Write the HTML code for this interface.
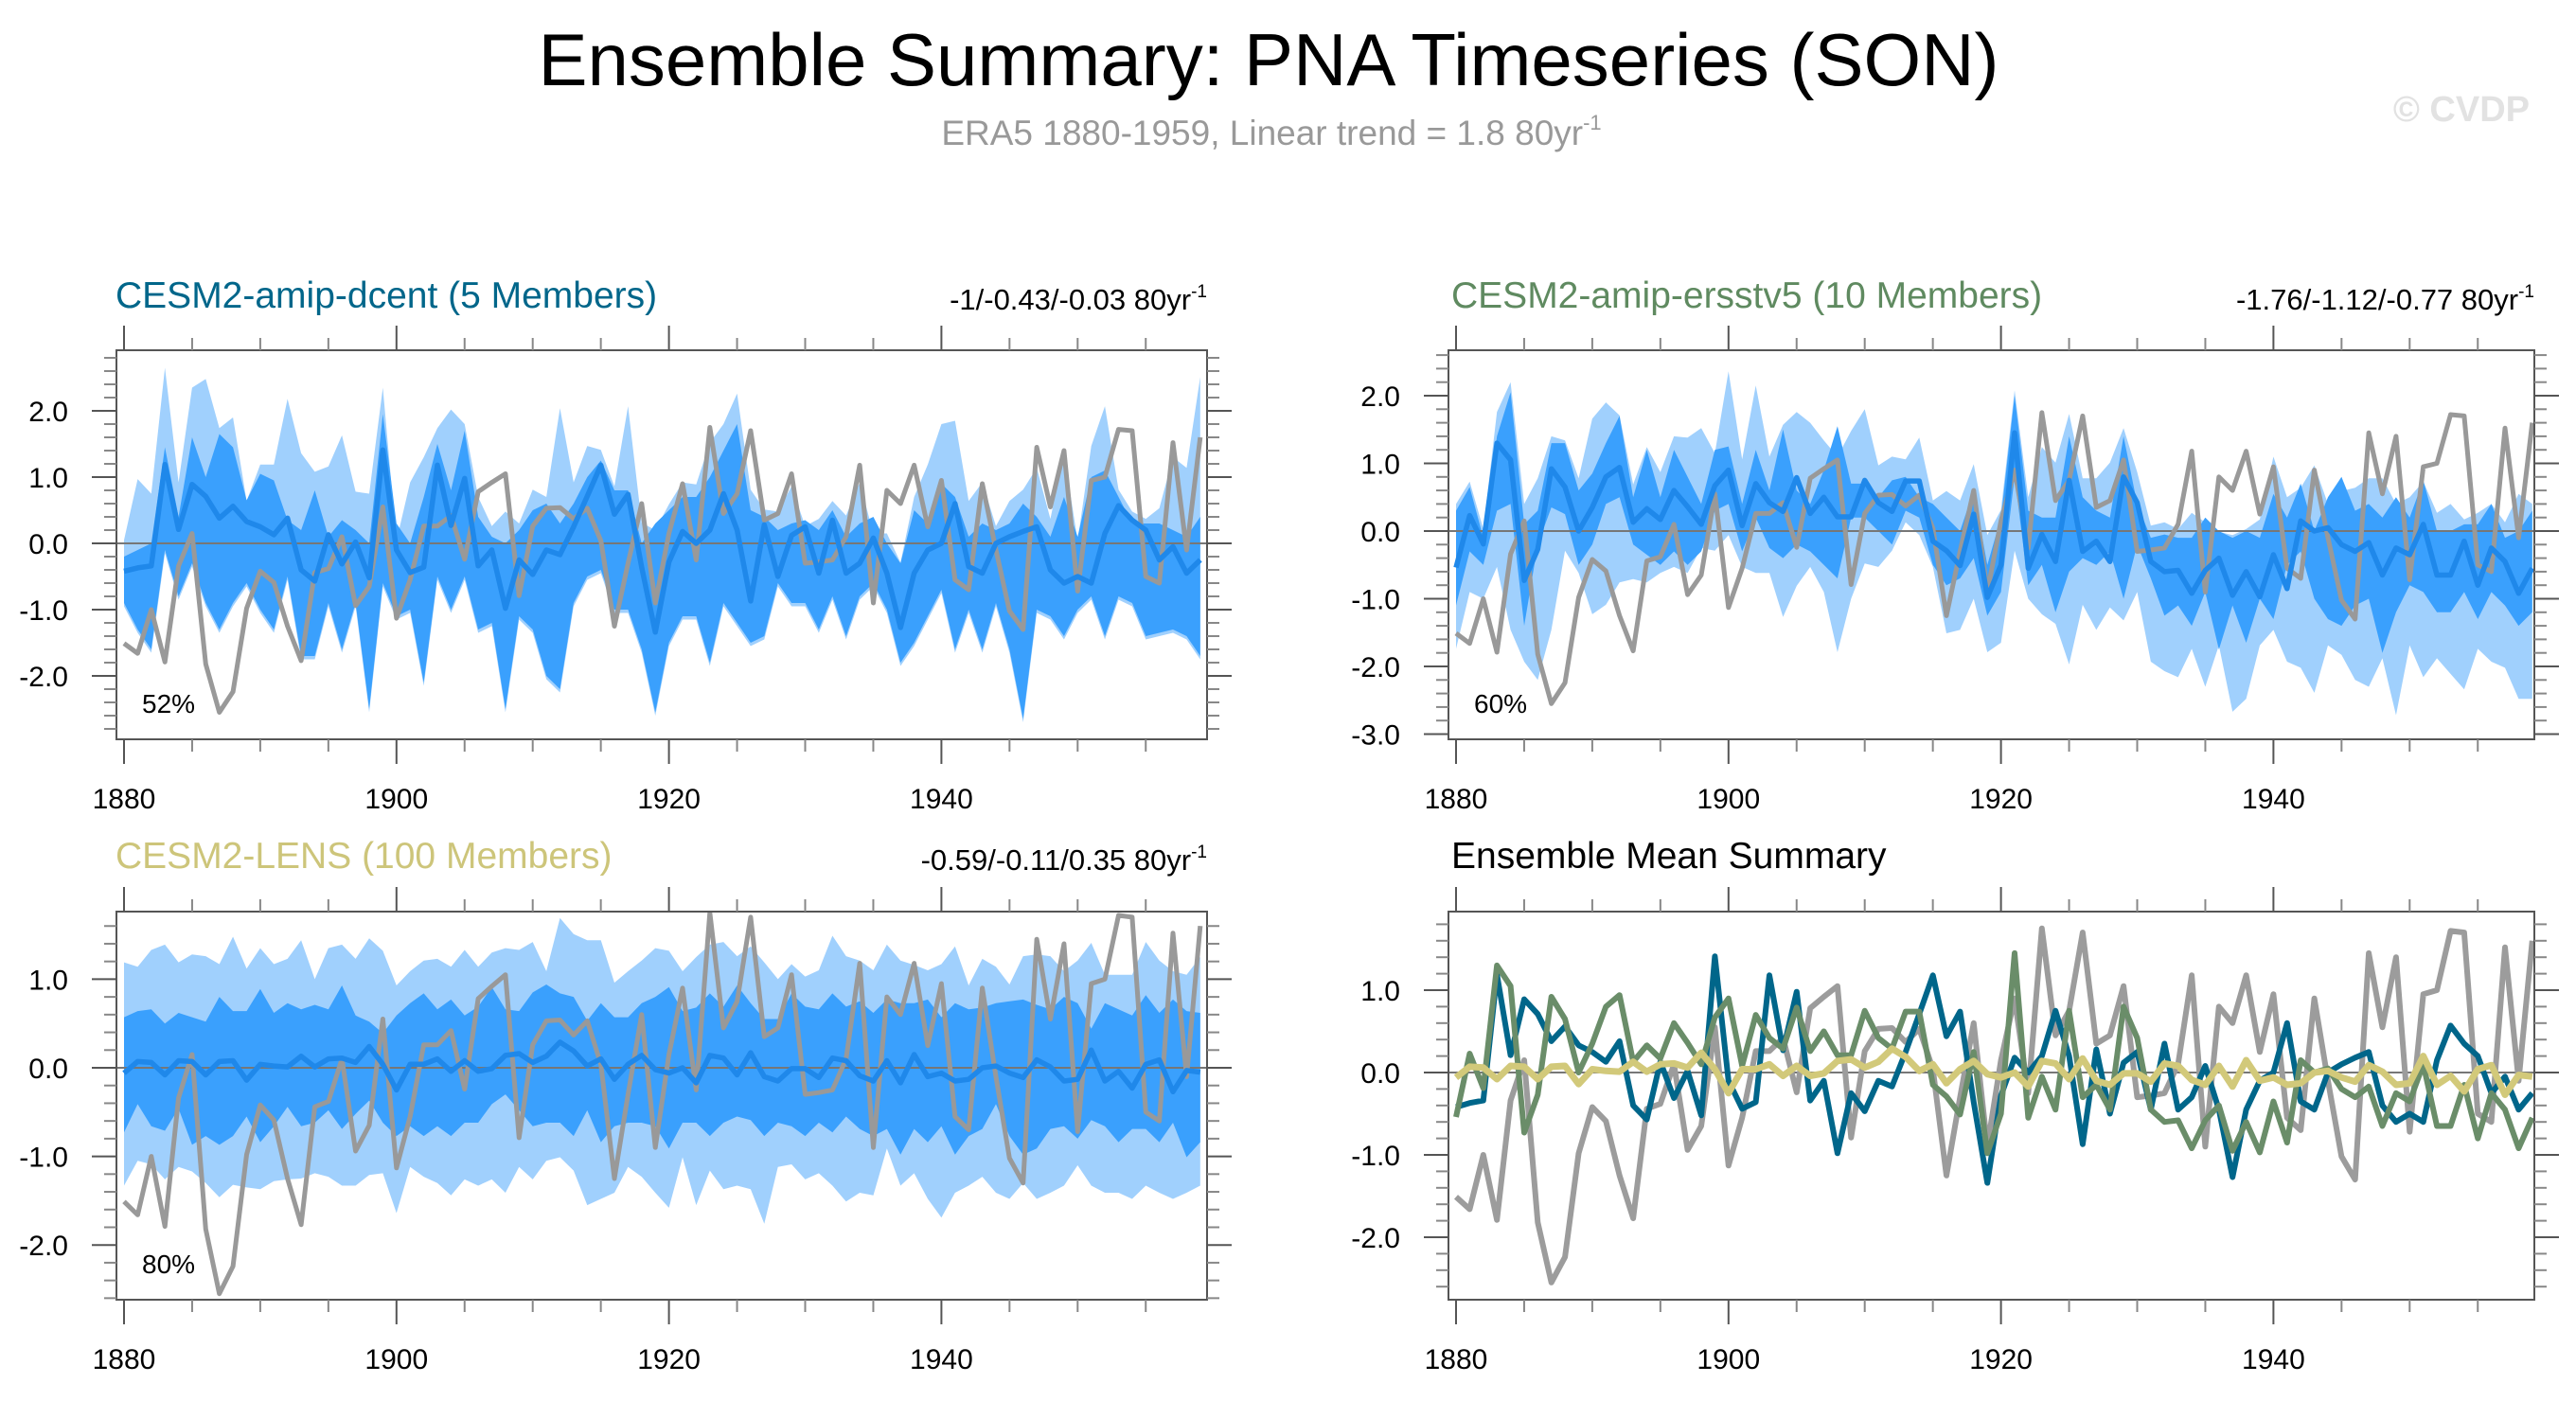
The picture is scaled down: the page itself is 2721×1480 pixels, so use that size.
<!DOCTYPE html>
<html><head><meta charset="utf-8"><title>Ensemble Summary: PNA Timeseries (SON)</title>
<style>html,body{margin:0;padding:0;background:#fff;}svg{display:block;font-family:"Liberation Sans",Arial,sans-serif;}</style>
</head><body>
<svg id="chart" width="2721" height="1480" viewBox="0 0 2721 1480" xmlns="http://www.w3.org/2000/svg">
<rect x="0" y="0" width="2721" height="1480" fill="#fff"/>
<text x="1340" y="90" font-size="78" text-anchor="middle" fill="#000">Ensemble Summary: PNA Timeseries (SON)</text>
<text x="1343" y="153" font-size="37" text-anchor="middle" fill="#999">ERA5 1880-1959, Linear trend = 1.8 80yr<tspan font-size="22" dy="-16">-1</tspan></text>
<text x="2672" y="128" font-size="38" font-weight="bold" text-anchor="end" fill="#e2e2e2">© CVDP</text>

<text x="122" y="325" font-size="39" fill="#00668a">CESM2-amip-dcent (5 Members)</text>
<text x="1275" y="327" font-size="31" text-anchor="end" fill="#000">-1/-0.43/-0.03 80yr<tspan font-size="19" dy="-13">-1</tspan></text>
<text x="1533" y="325" font-size="39" fill="#5f8a60">CESM2-amip-ersstv5 (10 Members)</text>
<text x="2677" y="327" font-size="31" text-anchor="end" fill="#000">-1.76/-1.12/-0.77 80yr<tspan font-size="19" dy="-13">-1</tspan></text>
<text x="122" y="917" font-size="39" fill="#cdc57a">CESM2-LENS (100 Members)</text>
<text x="1275" y="919" font-size="31" text-anchor="end" fill="#000">-0.59/-0.11/0.35 80yr<tspan font-size="19" dy="-13">-1</tspan></text>
<text x="1533" y="917" font-size="39" fill="#000">Ensemble Mean Summary</text>
<g id="plots"></g>
</svg>
<script>
// ---------- data ----------
const startYear = 1880;
const nYears = 80;
const obsERA5 = [-1.51,-1.66,-1.0,-1.79,-0.34,0.15,-1.82,-2.55,-2.24,-0.98,
 -0.42,-0.59,-1.25,-1.77,-0.44,-0.38,0.1,-0.94,-0.65,0.55,
 -1.13,-0.55,0.26,0.26,0.42,-0.24,0.78,0.92,1.05,-0.79,
 0.26,0.53,0.54,0.37,0.53,0.04,-1.25,-0.3,0.6,-0.9,
 0.15,0.9,-0.25,1.75,0.45,0.75,1.7,0.35,0.45,1.05,
 -0.3,-0.28,-0.25,0.1,1.18,-0.9,0.8,0.6,1.18,0.25,
 0.95,-0.55,-0.7,0.9,-0.1,-1.02,-1.3,1.45,0.55,1.4,
 -0.72,0.95,1.0,1.72,1.7,-0.5,-0.6,1.52,-0.1,1.6];
const dcentMean = [-0.42,-0.37,-0.34,1.19,0.21,0.89,0.71,0.38,0.56,0.33,
 0.25,0.13,0.38,-0.4,-0.57,0.13,-0.31,0.02,-0.52,1.41,
 -0.1,-0.44,-0.36,1.18,0.27,0.98,-0.34,-0.1,-0.98,-0.25,
 -0.47,-0.1,-0.17,0.25,0.71,1.18,0.44,0.74,-0.36,-1.34,
 -0.28,0.18,0.0,0.2,0.75,0.2,-0.87,0.28,-0.5,0.12,
 0.25,-0.45,0.35,-0.45,-0.3,0.08,-0.45,-1.27,-0.45,-0.1,
 0.0,0.6,-0.35,-0.45,-0.0,0.1,0.18,0.25,-0.4,-0.6,
 -0.5,-0.6,0.15,0.57,0.35,0.2,-0.25,-0.05,-0.45,-0.25];
const ersstMean = [-0.54,0.23,-0.19,1.3,1.05,-0.73,-0.27,0.92,0.65,0.0,
 0.35,0.8,0.94,0.13,0.33,0.17,0.6,0.36,0.1,0.67,
 0.9,0.08,0.7,0.42,0.29,0.79,0.26,0.5,0.21,0.21,
 0.75,0.42,0.29,0.74,0.74,-0.15,-0.29,-0.51,0.25,-0.98,
 -0.5,1.45,-0.55,-0.05,-0.45,0.75,-0.3,-0.15,-0.45,0.8,
 0.42,-0.45,-0.6,-0.58,-0.92,-0.58,-0.4,-0.95,-0.6,-0.97,
 -0.35,-0.85,0.15,0.0,0.05,-0.2,-0.3,-0.17,-0.65,-0.25,
 -0.35,0.1,-0.65,-0.65,-0.15,-0.8,-0.25,-0.45,-0.92,-0.55];
const lensMean = [-0.06,0.07,0.06,-0.08,0.08,0.07,-0.08,0.07,0.08,-0.14,
 0.04,0.02,0.01,0.13,0.01,0.1,0.11,0.06,0.24,0.04,
 -0.25,0.04,0.04,0.1,-0.04,0.08,-0.04,-0.01,0.14,0.16,
 0.06,0.13,0.29,0.19,0.02,0.1,-0.13,0.04,0.14,-0.02,
 -0.06,0.0,-0.17,0.14,0.11,-0.08,0.17,-0.1,-0.15,-0.01,
 -0.01,-0.11,0.11,0.08,-0.09,-0.15,0.08,-0.17,0.15,-0.1,
 -0.06,-0.15,-0.13,0.0,0.02,-0.06,-0.11,0.09,0.01,-0.15,
 -0.13,0.2,-0.15,-0.04,-0.23,0.04,0.09,-0.27,-0.03,-0.05];
// panel 1 spread
const dcentOuterHi = [0.05,0.97,0.75,2.65,0.92,2.35,2.48,1.74,1.9,0.64,
 1.19,1.19,2.18,1.36,1.08,1.16,1.63,0.78,0.75,2.35,
 0.04,0.92,1.3,1.74,2.02,1.8,0.7,0.26,0.48,0.3,
 0.81,0.7,2.04,0.92,1.47,1.41,0.86,2.07,0.31,0.2,
 0.59,0.92,0.89,1.52,1.8,2.26,0.81,0.51,0.48,0.86,
 0.26,0.37,0.64,0.42,0.92,0.15,0.15,-0.29,0.7,1.19,
 1.8,1.85,0.64,0.92,0.26,0.64,0.81,1.14,0.37,1.36,
 0.04,1.47,2.07,0.81,0.48,0.37,0.53,1.3,1.14,2.51];
const dcentOuterLo = [-0.95,-1.35,-1.65,-0.15,-0.85,-0.35,-0.95,-1.35,-0.95,-0.65,
 -1.05,-1.35,-0.55,-1.75,-1.75,-0.95,-1.65,-0.95,-2.55,-0.65,
 -1.15,-1.05,-2.15,-0.55,-1.05,-0.55,-1.35,-1.25,-2.55,-1.15,
 -1.35,-2.05,-2.25,-0.95,-0.55,-0.45,-1.05,-1.05,-1.65,-2.6,
 -1.55,-1.15,-1.15,-1.85,-0.95,-1.25,-1.55,-1.45,-0.65,-0.95,
 -0.95,-1.35,-0.85,-1.45,-0.85,-0.65,-1.05,-1.85,-1.55,-1.15,
 -0.75,-1.65,-1.05,-1.65,-0.95,-1.65,-2.7,-1.05,-1.15,-1.45,
 -1.05,-0.85,-1.45,-0.85,-0.95,-1.45,-1.4,-1.35,-1.45,-1.75];
const dcentInnerHi = [-0.2,-0.1,0.0,1.45,0.4,1.6,1.0,1.65,1.45,0.65,
 1.05,0.95,0.35,0.2,0.8,0.1,0.35,0.2,0.0,1.95,
 0.3,0.0,0.7,1.5,0.8,1.7,0.4,0.1,0.0,0.2,
 0.5,0.6,0.3,0.6,1.0,1.25,0.8,0.8,0.0,0.3,
 0.5,0.7,0.7,1.0,1.4,1.8,0.5,0.4,0.2,0.3,
 0.35,0.2,0.5,0.1,0.3,0.4,0.0,-0.3,0.5,0.3,
 0.9,0.7,0.1,0.3,0.2,0.3,0.6,0.4,0.1,0.7,
 0.1,1.0,1.1,0.7,0.3,0.3,0.3,0.2,0.1,0.4];
const dcentInnerLo = [-0.9,-1.3,-1.6,-0.1,-0.8,-0.3,-0.9,-1.3,-0.9,-0.6,
 -1.0,-1.3,-0.5,-1.7,-1.7,-0.9,-1.6,-0.9,-2.5,-0.6,
 -1.1,-1.0,-2.1,-0.5,-1.0,-0.5,-1.3,-1.2,-2.5,-1.1,
 -1.3,-2.0,-2.2,-0.9,-0.5,-0.4,-1.0,-1.0,-1.6,-2.55,
 -1.5,-1.1,-1.1,-1.8,-0.9,-1.2,-1.5,-1.4,-0.6,-0.9,
 -0.9,-1.3,-0.8,-1.4,-0.8,-0.6,-1.0,-1.8,-1.5,-1.1,
 -0.7,-1.6,-1.0,-1.6,-0.9,-1.6,-2.65,-1.0,-1.1,-1.4,
 -1.0,-0.8,-1.4,-0.8,-0.9,-1.4,-1.35,-1.3,-1.4,-1.7];
// panel 2 spread
const ersstOuterHi = [0.4,0.73,0.03,1.76,2.2,0.4,0.78,1.4,1.34,0.78,
 1.66,1.9,1.71,0.69,1.24,0.87,1.4,1.38,1.52,1.15,
 2.36,1.06,2.15,1.1,1.57,1.76,1.6,1.34,1.1,1.48,
 1.8,0.97,1.1,1.06,1.38,0.45,0.59,0.45,0.99,-0.06,
 0.31,2.08,0.5,1.24,1.01,1.73,0.78,0.78,1.01,1.52,
 0.87,0.08,0.13,0.03,0.27,0.13,-0.01,-0.06,0.03,0.17,
 1.1,0.5,0.64,0.97,0.4,0.59,0.64,0.78,0.78,0.4,
 0.5,0.73,0.27,0.4,0.17,0.27,0.4,0.13,0.55,0.4];
const ersstOuterLo = [-1.74,-0.9,-1.0,-0.53,-1.46,-1.93,-2.2,-1.46,-0.29,-0.62,
 -1.23,-1.09,-0.76,-0.71,-0.76,-0.62,-0.53,-0.62,-0.25,-0.29,
 -0.06,-0.53,-0.62,-0.62,-1.27,-0.81,-0.53,-0.9,-1.79,-1.0,
 -0.48,-0.53,-0.29,0.13,-0.06,-0.53,-1.51,-1.46,-1.0,-1.79,
 -1.65,-0.29,-1.0,-1.23,-1.37,-1.97,-1.09,-1.46,-1.13,-1.32,
 -0.9,-1.93,-2.07,-2.16,-1.74,-2.3,-1.69,-2.67,-2.48,-1.69,
 -1.46,-1.93,-2.02,-2.39,-1.69,-1.83,-2.2,-2.3,-1.88,-2.72,
 -1.69,-2.16,-1.88,-2.11,-2.34,-1.74,-1.93,-2.02,-2.48,-2.48];
const ersstInnerHi = [0.3,0.65,-0.1,1.4,2.05,0.1,0.3,1.3,1.3,0.6,
 0.85,1.3,1.7,0.5,1.2,0.5,1.2,0.8,0.4,1.2,
 1.25,0.4,1.2,0.6,1.5,0.6,0.4,0.9,1.55,0.7,
 0.7,0.5,0.75,0.8,0.5,0.4,0.2,0.0,0.6,-0.5,
 0.2,2.0,0.3,0.2,0.2,1.4,0.5,0.3,0.2,1.4,
 0.4,-0.1,-0.05,-0.1,-0.1,0.2,0.0,-0.1,0.0,-0.1,
 0.55,0.2,0.7,0.0,0.5,0.8,0.3,0.4,0.2,0.5,
 0.2,0.75,0.0,0.0,0.1,0.1,0.4,-0.1,0.0,0.3];
const ersstInnerLo = [-1.1,-0.3,-0.5,0.3,0.4,-1.4,-0.2,0.35,0.25,-0.5,
 -0.2,0.4,0.5,-0.2,-0.35,-0.5,-0.3,-0.5,-0.3,0.3,
 0.4,-0.3,0.2,-0.25,-0.4,-0.2,-0.3,-0.5,-0.7,0.2,
 0.2,0.0,-0.2,0.3,0.2,-0.5,-0.8,-0.7,-0.4,-1.25,
 -0.9,0.8,-0.8,-0.5,-1.2,-0.6,-0.4,-0.5,-0.3,-1.0,
 -0.2,-0.7,-1.25,-1.1,-1.4,-0.9,-1.75,-1.1,-1.65,-1.0,
 -1.3,-0.5,-0.3,-1.0,-1.3,-1.4,-1.1,-1.0,-1.8,-1.2,
 -0.8,-0.9,-1.2,-1.2,-0.9,-1.3,-0.9,-1.1,-1.4,-1.2];
// panel 3 spread
const lensOuterHi = [1.19,1.14,1.33,1.39,1.19,1.28,1.26,1.17,1.48,1.12,
 1.35,1.17,1.23,1.44,1.0,1.35,1.39,1.23,1.46,1.32,
 0.93,1.09,1.21,1.23,1.14,1.33,1.14,1.3,1.35,1.33,
 1.42,1.09,1.69,1.51,1.44,1.44,0.96,1.09,1.21,1.35,
 1.32,1.09,1.25,1.39,1.42,1.26,1.37,1.19,1.0,1.17,
 1.03,1.1,1.49,1.26,1.21,1.1,1.39,1.21,1.16,1.1,
 1.17,1.37,0.93,1.23,1.14,0.94,1.26,1.28,1.26,1.09,
 1.21,1.41,1.05,1.05,1.05,1.42,1.21,1.09,1.05,1.25];
const lensOuterLo = [-1.33,-1.05,-1.09,-1.26,-1.12,-1.17,-1.3,-1.46,-1.32,-1.35,
 -1.37,-1.28,-1.26,-1.25,-1.19,-1.23,-1.33,-1.33,-1.21,-1.19,
 -1.64,-1.12,-1.23,-1.3,-1.44,-1.26,-1.33,-1.26,-1.41,-1.12,
 -1.26,-1.05,-1.01,-1.16,-1.55,-1.48,-1.41,-1.12,-1.23,-1.41,
 -1.58,-1.01,-1.55,-1.16,-1.37,-1.33,-1.37,-1.76,-1.12,-1.09,
 -1.26,-1.19,-1.33,-1.51,-1.41,-1.44,-0.91,-1.33,-1.19,-1.48,
 -1.69,-1.41,-1.33,-1.23,-1.41,-1.48,-1.3,-1.48,-1.41,-1.33,
 -1.1,-1.33,-1.41,-1.41,-1.48,-1.33,-1.41,-1.48,-1.41,-1.33];
const lensInnerHi = [0.57,0.64,0.66,0.5,0.62,0.57,0.52,0.8,0.64,0.64,
 0.89,0.62,0.73,0.66,0.71,0.66,0.93,0.59,0.52,0.39,
 0.59,0.73,0.84,0.66,0.77,0.59,0.69,0.91,0.66,0.64,
 0.85,0.94,0.84,0.8,0.53,0.73,0.57,0.57,0.73,0.8,
 0.91,0.64,0.68,0.84,0.69,0.93,0.73,0.55,0.55,0.84,
 0.69,0.66,0.84,0.69,0.75,0.62,0.77,0.73,0.73,0.77,
 0.57,0.73,0.66,0.68,0.73,0.75,0.77,0.71,0.66,0.8,
 0.73,0.44,0.73,0.66,0.59,0.82,0.62,0.77,0.64,0.62];
const lensInnerLo = [-0.73,-0.41,-0.66,-0.71,-0.46,-0.87,-0.77,-0.87,-0.77,-0.55,
 -0.84,-0.66,-0.44,-0.66,-0.62,-0.48,-0.69,-0.52,-0.37,-0.62,
 -0.77,-0.66,-0.77,-0.66,-0.77,-0.62,-0.62,-0.41,-0.3,-0.48,
 -0.66,-0.62,-0.62,-0.77,-0.48,-0.84,-0.66,-0.62,-0.62,-0.66,
 -0.91,-0.62,-0.62,-0.77,-0.62,-0.55,-0.59,-0.77,-0.62,-0.66,
 -0.77,-0.62,-0.73,-0.55,-0.69,-0.77,-0.69,-0.98,-0.69,-0.84,
 -0.66,-0.98,-0.77,-0.69,-0.41,-0.77,-0.98,-0.91,-0.69,-0.66,
 -0.8,-0.59,-0.66,-0.84,-0.69,-0.69,-0.84,-0.62,-1.01,-0.84];
const yTicksP1 = [-2, -1, 0, 1, 2];
const yTicksP2 = [-3, -2, -1, 0, 1, 2];
const yTicksP3 = [-2, -1, 0, 1];
const yTicksP4 = [-2, -1, 0, 1];
const xTickYears = [1880, 1900, 1920, 1940];
const pctP1 = "52%", pctP2 = "60%", pctP3 = "80%";

// ---------- layout ----------
const NS = "http://www.w3.org/2000/svg";
const root = document.getElementById("plots");
const YEAR_PX = 14.39;
const panels = [
 {key:"panel1", x0:123, x1:1275, y0:370, y1:781, zeroY:574, unit:70, ticks:yTicksP1, pct:pctP1,
  outer:[dcentOuterHi, dcentOuterLo], inner:[dcentInnerHi, dcentInnerLo], mean:dcentMean},
 {key:"panel2", x0:1530, x1:2677, y0:370, y1:781, zeroY:561, unit:71.5, ticks:yTicksP2, pct:pctP2,
  outer:[ersstOuterHi, ersstOuterLo], inner:[ersstInnerHi, ersstInnerLo], mean:ersstMean},
 {key:"panel3", x0:123, x1:1275, y0:963, y1:1373, zeroY:1128, unit:93.6, ticks:yTicksP3, pct:pctP3,
  outer:[lensOuterHi, lensOuterLo], inner:[lensInnerHi, lensInnerLo], mean:lensMean},
 {key:"panel4", x0:1530, x1:2677, y0:963, y1:1373, zeroY:1133, unit:87, ticks:yTicksP4, pct:null}
];
function mk(tag, attrs, parent) {
  const el = document.createElementNS(NS, tag);
  for (const k in attrs) el.setAttribute(k, attrs[k]);
  (parent || root).appendChild(el);
  return el;
}
function fmt(v) { return v.toFixed(1); }

panels.forEach(function (p) {
  const g = mk("g", {});
  
  
  const xs = function (i) { return p.x0 + 8 + i * YEAR_PX; };
  const ys = function (v) { return p.zeroY - v * p.unit; };
  const clipId = p.key + "-clip";
  const cp = mk("clipPath", {id: clipId}, g);
  mk("rect", {x: p.x0, y: p.y0, width: p.x1 - p.x0, height: p.y1 - p.y0}, cp);
  const plotArea = mk("g", {"clip-path": "url(#" + clipId + ")"}, g);

  function band(hi, lo, color, name) {
    let d = "";
    for (let i = 0; i < nYears; i++) d += (i ? "L" : "M") + xs(i).toFixed(1) + " " + ys(hi[i]).toFixed(1);
    for (let i = nYears - 1; i >= 0; i--) d += "L" + xs(i).toFixed(1) + " " + ys(lo[i]).toFixed(1);
    const el = mk("path", {d: d + "Z", fill: color, stroke: "none"}, plotArea);
    
    
  }
  function line(vals, color, w, name) {
    let d = "";
    for (let i = 0; i < nYears; i++) d += (i ? "L" : "M") + xs(i).toFixed(1) + " " + ys(vals[i]).toFixed(1);
    const el = mk("path", {d: d, fill: "none", stroke: color, "stroke-width": w, "stroke-linejoin": "round"}, plotArea);
    
    
  }
  if (p.outer) {
    band(p.outer[0], p.outer[1], "#a0d0fd", p.key + "-outer-spread-band");
    band(p.inner[0], p.inner[1], "#3aa0fd", p.key + "-inner-spread-band");
  }
  const zl = mk("line", {x1: p.x0, x2: p.x1, y1: ys(0), y2: ys(0), stroke: "#777", "stroke-width": 2}, plotArea);
  
  
  if (p.outer) {
    line(obsERA5, "#999999", 5, p.key + "-era5-line");
    line(p.mean, "#1f88ea", 5.5, p.key + "-ensemble-mean-line");
  } else {
    line(obsERA5, "#9c9c9c", 6, "summary-era5-line");
    line(dcentMean, "#00668a", 6, "summary-dcent-mean-line");
    line(ersstMean, "#6a8d69", 6, "summary-ersstv5-mean-line");
    line(lensMean, "#d2c97a", 7, "summary-lens-mean-line");
  }
  // frame
  const fr = mk("rect", {x: p.x0, y: p.y0, width: p.x1 - p.x0, height: p.y1 - p.y0, fill: "none", stroke: "#555", "stroke-width": 2}, g);
  
  

  // y ticks
  const vTop = (p.zeroY - p.y0) / p.unit, vBot = (p.zeroY - p.y1) / p.unit;
  for (let k = Math.ceil(vBot * 5 - 1e-6); k <= Math.floor(vTop * 5 + 1e-6); k++) {
    const v = k / 5, y = ys(v);
    const major = (k % 5 === 0);
    const len = major ? 26 : 13;
    const tl = mk("line", {x1: p.x0 - len, x2: p.x0, y1: y, y2: y, stroke: major ? "#555" : "#888", "stroke-width": 2}, g);
    
    
    const tr = mk("line", {x1: p.x1, x2: p.x1 + len, y1: y, y2: y, stroke: major ? "#555" : "#888", "stroke-width": 2}, g);
    
    
  }
  p.ticks.forEach(function (v) {
    const t = mk("text", {x: p.x0 - 51, y: ys(v) + 11, "font-size": 30, "text-anchor": "end", fill: "#000"}, g);
    
    
    t.textContent = fmt(v);
  });
  // x ticks
  for (let yr = startYear; yr < startYear + nYears; yr += 5) {
    const x = xs(yr - startYear);
    const major = ((yr - startYear) % 20 === 0);
    const len = major ? 26 : 13;
    const tb = mk("line", {x1: x, x2: x, y1: p.y1, y2: p.y1 + len, stroke: major ? "#555" : "#888", "stroke-width": 2}, g);
    
    
    const tt = mk("line", {x1: x, x2: x, y1: p.y0 - len, y2: p.y0, stroke: major ? "#555" : "#888", "stroke-width": 2}, g);
    
    
  }
  xTickYears.forEach(function (yr) {
    const t = mk("text", {x: xs(yr - startYear), y: p.y1 + 73, "font-size": 30, "text-anchor": "middle", fill: "#000"}, g);
    
    
    t.textContent = String(yr);
  });
  if (p.pct) {
    const t = mk("text", {x: p.x0 + 27, y: p.y1 - 28, "font-size": 28, fill: "#000"}, g);
    
    
    t.textContent = p.pct;
  }
});
</script>
</body></html>
